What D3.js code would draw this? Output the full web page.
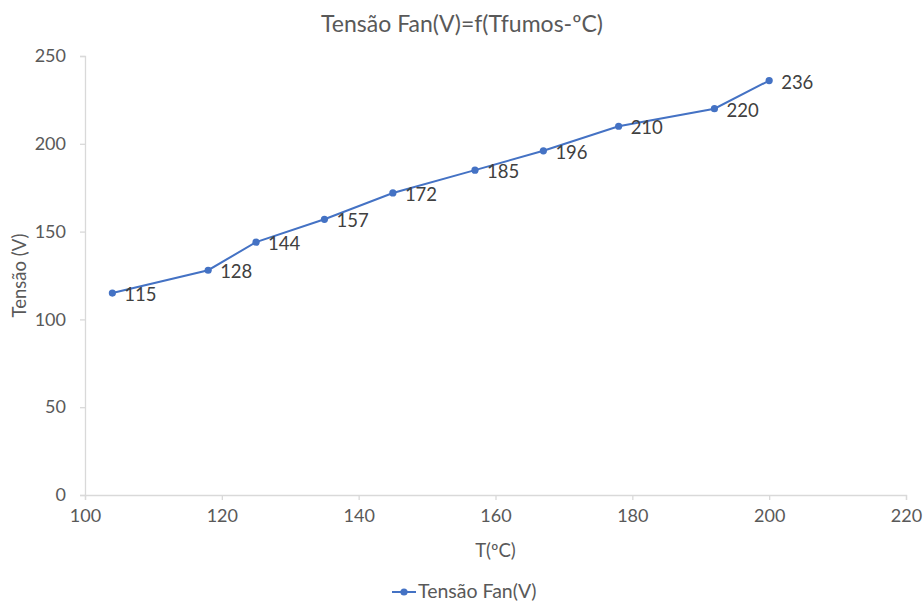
<!DOCTYPE html>
<meta charset="utf-8">
<head>
  <title>Tensão Fan</title>
  <style>
    body { margin: 0; background: #fff; }
    text { font-family: Lato, "Noto Sans", sans-serif; }
  </style>
</head>

<script src="https://d3js.org/d3.v7.min.js"></script>

<div id="my_dataviz"></div>

<script>

// data
var temps   = [104, 118, 125, 135, 145, 157, 167, 178, 192, 200];
var tensoes = [115, 128, 144, 157, 172, 185, 196, 210, 220, 236];
var xTicks  = [100, 120, 140, 160, 180, 200, 220];
var yTicks  = [0, 50, 100, 150, 200, 250];
var seriesName = "Tensão Fan(V)";

var W = 923, H = 603;
var margin = {top: 56, right: 17, bottom: 108, left: 85},
    width = W - margin.left - margin.right,
    height = H - margin.top - margin.bottom;

var blue = "#4472C4", grey = "#595959", axisCol = "#d9d9d9";

var svgRoot = d3.select("#my_dataviz")
  .append("svg")
    .attr("width", W)
    .attr("height", H);

var svg = svgRoot.append("g")
    .attr("transform", "translate(" + margin.left + "," + margin.top + ")");

var x = d3.scaleLinear().domain([100, 220]).range([0, width]);
var y = d3.scaleLinear().domain([0, 250]).range([height, 0]);

// X axis
var gx = svg.append("g")
    .attr("transform", "translate(0," + height + ")")
    .call(d3.axisBottom(x).tickValues(xTicks).tickSize(5).tickPadding(9));

// Y axis
var gy = svg.append("g")
    .call(d3.axisLeft(y).tickValues(yTicks).tickSize(5).tickPadding(14));

[gx, gy].forEach(function(g) {
  g.select(".domain").attr("stroke", axisCol).attr("stroke-width", 1.3);
  g.selectAll(".tick line").attr("stroke", axisCol).attr("stroke-width", 1.3);
  g.selectAll(".tick text")
    .attr("fill", grey)
    .style("font-size", "18px");
});

var data = temps.map(function(t, i) { return {t: t, v: tensoes[i]}; });

// line
svg.append("path")
  .datum(data)
  .attr("fill", "none")
  .attr("stroke", blue)
  .attr("stroke-width", 2)
  .attr("d", d3.line()
    .x(function(d) { return x(d.t); })
    .y(function(d) { return y(d.v); }));

// markers
svg.selectAll(".dot")
  .data(data)
  .enter().append("circle")
    .attr("cx", function(d) { return x(d.t); })
    .attr("cy", function(d) { return y(d.v); })
    .attr("r", 3.6)
    .attr("fill", blue);

// data labels
svg.selectAll(".lbl")
  .data(data)
  .enter().append("text")
    .attr("x", function(d) { return x(d.t) + 12; })
    .attr("y", function(d) { return y(d.v) + 8; })
    .attr("fill", "#404040")
    .style("font-size", "18.5px")
    .text(function(d) { return d.v; });

// title
svgRoot.append("text")
  .attr("x", 462)
  .attr("y", 32)
  .attr("text-anchor", "middle")
  .attr("fill", grey)
  .style("font-size", "23px")
  .text("Tensão Fan(V)=f(Tfumos-ºC)");

// axis titles
svgRoot.append("text")
  .attr("x", margin.left + width / 2)
  .attr("y", 557)
  .attr("text-anchor", "middle")
  .attr("fill", grey)
  .style("font-size", "18.5px")
  .text("T(ºC)");

svgRoot.append("text")
  .attr("transform", "translate(26," + (margin.top + height / 2) + ") rotate(-90)")
  .attr("text-anchor", "middle")
  .attr("fill", grey)
  .style("font-size", "18.5px")
  .text("Tensão (V)");

// legend
var leg = svgRoot.append("g").attr("transform", "translate(392,592)");
leg.append("line")
  .attr("x1", 0).attr("x2", 24)
  .attr("stroke", blue).attr("stroke-width", 2);
leg.append("circle")
  .attr("cx", 12).attr("r", 3.6).attr("fill", blue);
leg.append("text")
  .attr("x", 26).attr("y", 6)
  .attr("fill", grey)
  .style("font-size", "19.5px")
  .text(seriesName);

</script>
